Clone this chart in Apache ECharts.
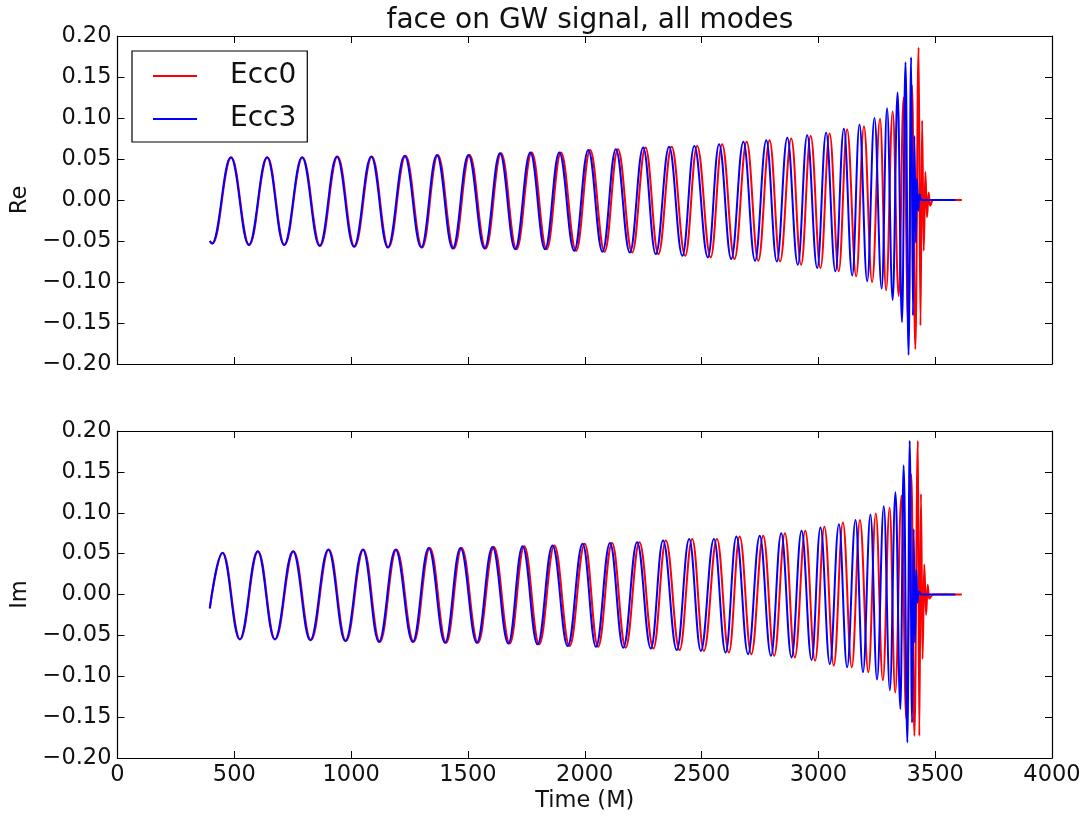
<!DOCTYPE html>
<html>
<head>
<meta charset="utf-8">
<script src="https://cdn.jsdelivr.net/npm/echarts@6/dist/echarts.min.js"></script>
<style>
html,body{margin:0;padding:0;background:#fff;}
#chart{width:1089px;height:822px;}
</style>
</head>
<body>
<div id="chart"></div>
<script>
// ---- Data (extrema of each oscillation, Time in M) ----
const seriesNames = ['Ecc0', 'Ecc3'];
const xTickValues = [0, 500, 1000, 1500, 2000, 2500, 3000, 3500, 4000];
const yTickLabels = ['\u22120.20', '\u22120.15', '\u22120.10', '\u22120.05', '0.00', '0.05', '0.10', '0.15', '0.20'];

// Re panel, Ecc3 (blue)
const reTimeEcc3 = [395,405,485,562,640,713,790,865,939,1012,1086,1157,1229,1300,1367,1435,1502,1571,1637,1702,1767,1830,1891,1955,2015,2076,2133,2193,2250,2304,2361,2418,2469,2527,2575,2627,2679,2729,2777,2822,2867,2912,2952,2995,3033,3073,3109,3145,3176,3209,3240,3271,3294,3318,3339,3358,3373,3386,3397,3405,3411,3417,3422,3428,3433,3440,3586];
const reValEcc3  = [-0.050,-0.053,0.052,-0.055,0.052,-0.055,0.052,-0.056,0.053,-0.057,0.053,-0.058,0.054,-0.058,0.055,-0.059,0.055,-0.059,0.057,-0.060,0.058,-0.060,0.058,-0.062,0.061,-0.063,0.062,-0.064,0.064,-0.066,0.065,-0.068,0.066,-0.070,0.068,-0.072,0.071,-0.074,0.073,-0.075,0.076,-0.079,0.079,-0.083,0.082,-0.087,0.087,-0.092,0.092,-0.099,0.100,-0.108,0.112,-0.122,0.131,-0.149,0.168,-0.189,0.174,-0.141,0.078,-0.052,0.026,-0.013,0.007,0.000,0.000];

// Re panel, Ecc0 (red)
const reTimeEcc0 = [395,407,487,564,642,715,792,868,942,1015,1089,1160,1233,1304,1371,1440,1507,1576,1642,1708,1773,1837,1898,1963,2023,2085,2142,2203,2260,2315,2372,2430,2481,2539,2588,2641,2693,2743,2791,2836,2884,2926,2967,3009,3048,3087,3123,3162,3195,3230,3264,3290,3318,3344,3365,3385,3401,3415,3429,3437,3444,3451,3458,3465,3472,3478,3490,3614];
const reValEcc0  = [-0.050,-0.053,0.052,-0.055,0.052,-0.055,0.052,-0.056,0.053,-0.057,0.053,-0.058,0.054,-0.058,0.055,-0.059,0.055,-0.059,0.057,-0.060,0.058,-0.060,0.058,-0.062,0.061,-0.063,0.062,-0.064,0.064,-0.066,0.065,-0.068,0.066,-0.070,0.068,-0.072,0.071,-0.074,0.073,-0.075,0.075,-0.079,0.078,-0.083,0.081,-0.087,0.086,-0.093,0.090,-0.100,0.099,-0.110,0.108,-0.117,0.125,-0.153,0.140,-0.182,0.186,-0.153,0.097,-0.062,0.034,-0.021,0.009,-0.007,0.000,0.000];

// Im panel, Ecc3 (blue)
const imTimeEcc3 = [395,449,523,600,673,751,825,902,975,1050,1119,1190,1264,1332,1402,1468,1538,1605,1673,1734,1798,1862,1927,1991,2048,2108,2165,2224,2283,2335,2394,2447,2497,2553,2603,2649,2699,2749,2797,2841,2885,2928,2971,3009,3049,3088,3123,3159,3191,3223,3251,3280,3306,3330,3351,3365,3381,3391,3401,3408,3413,3419,3424,3429,3440,3586];
const imValEcc3  = [-0.017,0.051,-0.055,0.053,-0.055,0.053,-0.056,0.055,-0.057,0.055,-0.058,0.055,-0.058,0.057,-0.059,0.057,-0.059,0.058,-0.060,0.059,-0.061,0.060,-0.063,0.062,-0.064,0.063,-0.065,0.064,-0.066,0.066,-0.068,0.068,-0.069,0.068,-0.071,0.071,-0.073,0.072,-0.075,0.075,-0.077,0.078,-0.080,0.082,-0.085,0.086,-0.089,0.091,-0.095,0.098,-0.104,0.108,-0.117,0.125,-0.140,0.158,-0.181,0.188,-0.157,0.080,-0.059,0.030,-0.010,0.004,0.000,0.000];

// Im panel, Ecc0 (red)
const imTimeEcc0 = [395,451,525,602,675,754,828,905,978,1053,1123,1194,1268,1337,1407,1473,1543,1611,1679,1741,1805,1870,1935,2000,2057,2117,2175,2234,2294,2347,2406,2460,2510,2566,2617,2663,2713,2764,2811,2857,2899,2944,2986,3026,3066,3105,3143,3178,3214,3246,3276,3305,3329,3356,3376,3398,3411,3426,3432,3439,3446,3453,3461,3468,3474,3490,3614];
const imValEcc0  = [-0.017,0.051,-0.055,0.053,-0.055,0.053,-0.056,0.055,-0.057,0.055,-0.058,0.055,-0.058,0.057,-0.059,0.057,-0.059,0.058,-0.060,0.059,-0.061,0.060,-0.063,0.062,-0.064,0.063,-0.065,0.064,-0.066,0.066,-0.068,0.068,-0.069,0.068,-0.071,0.071,-0.073,0.072,-0.075,0.075,-0.077,0.078,-0.081,0.083,-0.087,0.088,-0.089,0.091,-0.095,0.099,-0.105,0.106,-0.120,0.121,-0.152,0.147,-0.173,0.188,-0.173,0.123,-0.079,0.037,-0.025,0.012,-0.005,0.000,0.000];

// ---- Chart ----
const FONT = 'DejaVu Sans';
const zip = (ts, vs) => ts.map((t, i) => [t, vs[i]]);
const yFmt = v => {
  const idx = Math.round((v + 0.2) / 0.05);
  return yTickLabels[idx] !== undefined ? yTickLabels[idx] : '';
};

const gridTop = {left: 117.5, top: 36, width: 934.5, height: 328};
const gridBot = {left: 117.5, top: 431, width: 934.5, height: 327};

function xAx(gridIndex, position, showLabels, name) {
  const ax = {
    type: 'value', gridIndex, position, min: 0, max: 4000, interval: 500,
    axisLine: {show: true, onZero: false, lineStyle: {color: '#000', width: 1.2}},
    axisTick: {show: true, inside: true, length: 7, lineStyle: {color: '#000', width: 1}},
    axisLabel: {show: showLabels, fontFamily: FONT, fontSize: 22.5, color: '#111', margin: 6,
      formatter: v => xTickValues.indexOf(v) >= 0 ? String(v) : ''},
    splitLine: {show: false}
  };
  if (name) {
    ax.name = name; ax.nameLocation = 'middle'; ax.nameGap = 32;
    ax.nameTextStyle = {fontFamily: FONT, fontSize: 22.5, color: '#111'};
  }
  return ax;
}
function yAx(gridIndex, position, showLabels, name) {
  const ax = {
    type: 'value', gridIndex, position, min: -0.2, max: 0.2, interval: 0.05,
    axisLine: {show: true, onZero: false, lineStyle: {color: '#000', width: 1.2}},
    axisTick: {show: true, inside: true, length: 7, lineStyle: {color: '#000', width: 1}},
    axisLabel: {show: showLabels, fontFamily: FONT, fontSize: 22.5, color: '#111', margin: 6, formatter: yFmt},
    splitLine: {show: false}
  };
  if (name) {
    ax.name = name; ax.nameLocation = 'middle'; ax.nameGap = 86; ax.nameRotate = 90;
    ax.nameTextStyle = {fontFamily: FONT, fontSize: 22.5, color: '#111'};
  }
  return ax;
}

const lineSeries = (name, color, xi, yi, data) => ({
  name, type: 'line', xAxisIndex: xi, yAxisIndex: yi, data,
  showSymbol: false, symbol: 'none', smooth: 0.4, smoothMonotone: 'x',
  lineStyle: {color, width: 2}, itemStyle: {color},
  emphasis: {disabled: true}, silent: true, animation: false
});

const chart = echarts.init(document.getElementById('chart'), null, {renderer: 'canvas'});
chart.setOption({
  backgroundColor: '#fff',
  animation: false,
  title: {
    text: 'face on GW signal, all modes',
    left: 585, top: 2, textAlign: 'center',
    textStyle: {fontFamily: FONT, fontSize: 28, fontWeight: 'normal', color: '#111'}
  },
  legend: {
    data: seriesNames.map(n => ({name: n, icon: 'rect'})),
    orient: 'vertical', left: 132, top: 51,
    borderColor: '#000', borderWidth: 1.2,
    padding: [11, 11, 9, 21], itemGap: 15,
    itemWidth: 44, itemHeight: 2,
    textStyle: {fontFamily: FONT, fontSize: 28, color: '#111', padding: [0, 0, 0, 28]},
    backgroundColor: '#fff',
    selectedMode: false
  },
  grid: [gridTop, gridBot],
  xAxis: [
    xAx(0, 'bottom', false),
    xAx(0, 'top', false),
    xAx(1, 'bottom', true, 'Time (M)'),
    xAx(1, 'top', false)
  ],
  yAxis: [
    yAx(0, 'left', true, 'Re'),
    yAx(0, 'right', false),
    yAx(1, 'left', true, 'Im'),
    yAx(1, 'right', false)
  ],
  series: [
    lineSeries(seriesNames[0], '#ff0000', 0, 0, zip(reTimeEcc0, reValEcc0)),
    lineSeries(seriesNames[1], '#0000ff', 0, 0, zip(reTimeEcc3, reValEcc3)),
    lineSeries(seriesNames[0], '#ff0000', 2, 2, zip(imTimeEcc0, imValEcc0)),
    lineSeries(seriesNames[1], '#0000ff', 2, 2, zip(imTimeEcc3, imValEcc3))
  ]
});
</script>
</body>
</html>
